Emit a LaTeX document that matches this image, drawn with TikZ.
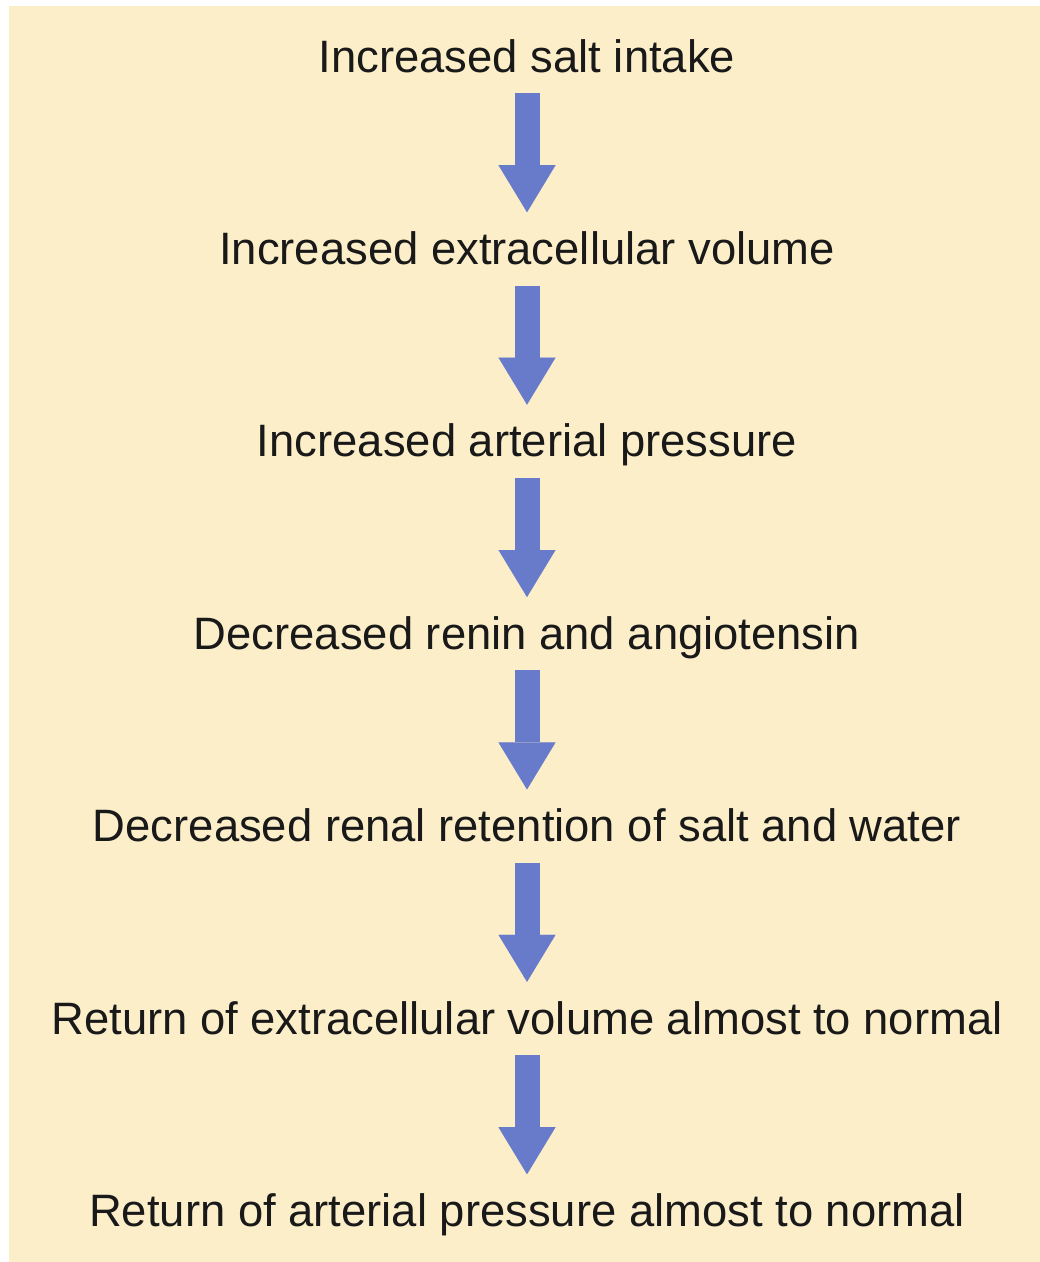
\documentclass[tikz,border=0pt]{standalone}
\usepackage{fontspec}
\setmainfont{Liberation Sans}
\usetikzlibrary{arrows.meta}
\usetikzlibrary{positioning}

\definecolor{panelbg}{RGB}{251,238,201}
\definecolor{flowblue}{RGB}{104,122,202}

\begin{document}
\begin{tikzpicture}[x=1pt,y=1pt,>=Stealth,
  step text/.style={font=\fontsize{45.4}{55}\selectfont,text=black!90,inner sep=0pt,text height=34pt,text depth=10pt},
  flow/.style={draw=flowblue,line width=25pt,shorten <=11pt,shorten >=18pt,-{Triangle[width=57pt,length=47pt,line width=0.01pt]}},
  node distance=148pt]
% panel
\useasboundingbox (0,0) rectangle (1040,-1262);
\fill[panelbg] (9,-6) rectangle (1040,-1262);
% steps
\node[step text,anchor=base] (salt) at (527,-72) {Increased salt intake};
\node[step text,below=of salt] (ecv) {Increased extracellular volume};
\node[step text,below=of ecv] (pres) {Increased arterial pressure};
\node[step text,below=of pres] (renin) {Decreased renin and angiotensin};
\node[step text,below=of renin] (retn) {Decreased renal retention of salt and water};
\node[step text,below=of retn] (ecvback) {Return of extracellular volume almost to normal};
\node[step text,below=of ecvback] (presback) {Return of arterial pressure almost to normal};
% arrows
\draw[flow] (salt) -- (ecv);
\draw[flow] (ecv) -- (pres);
\draw[flow] (pres) -- (renin);
\draw[flow] (renin) -- (retn);
\draw[flow] (retn) -- (ecvback);
\draw[flow] (ecvback) -- (presback);
\end{tikzpicture}
\end{document}
